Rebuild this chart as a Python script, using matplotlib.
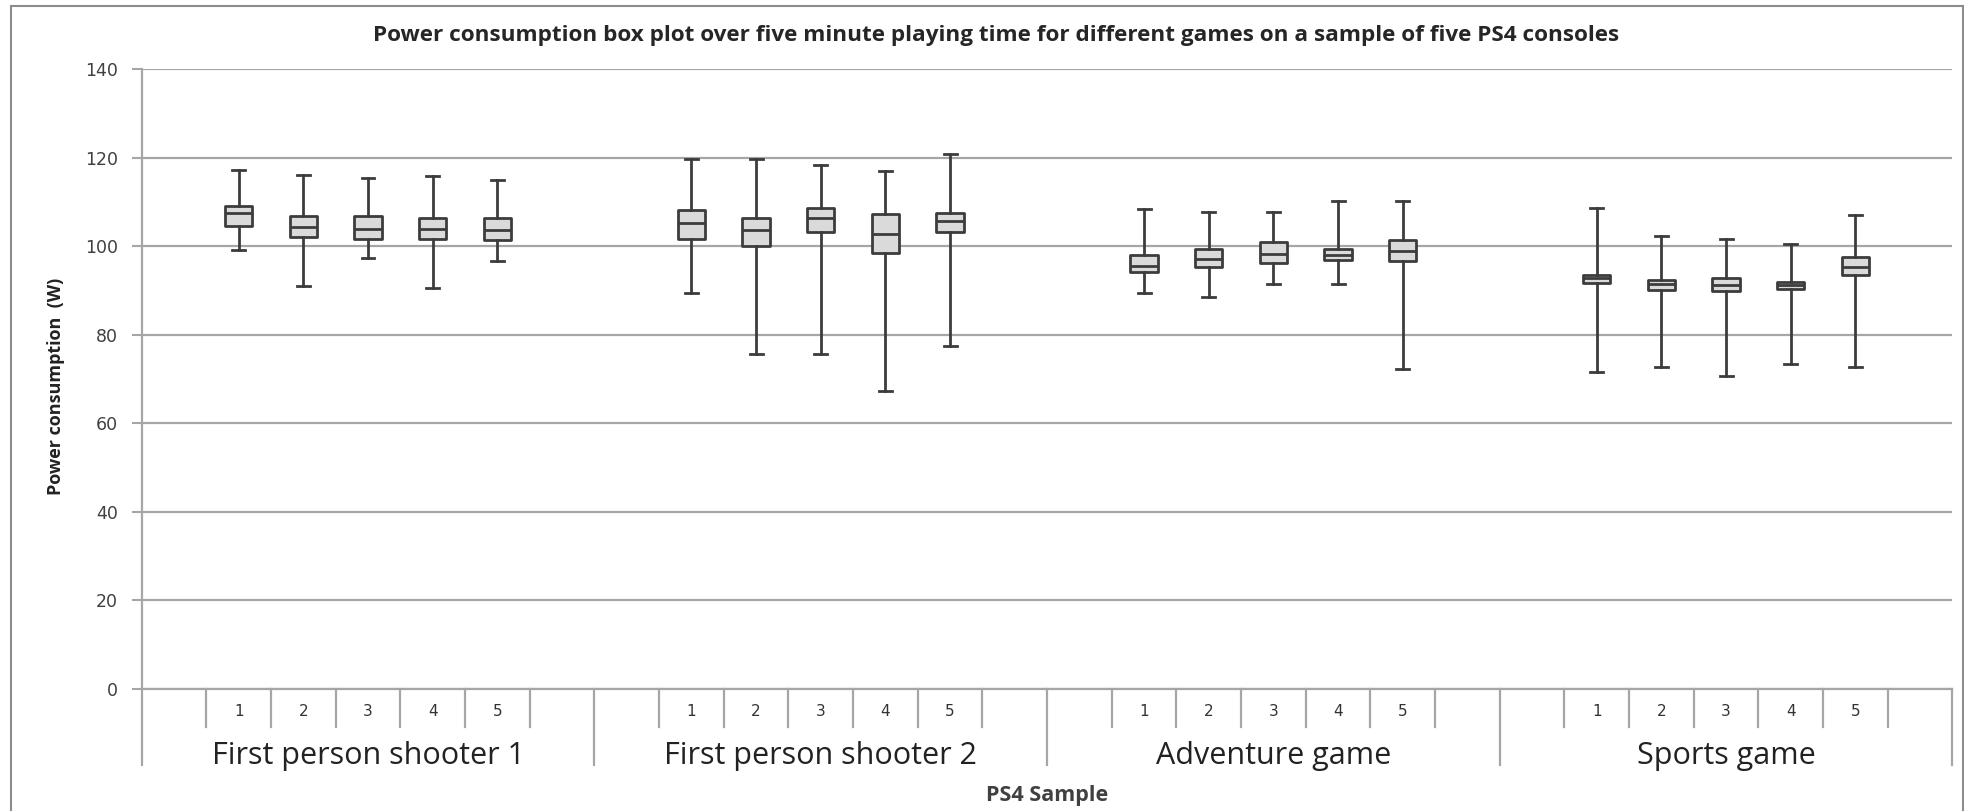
import matplotlib
matplotlib.use('Agg')
import matplotlib.pyplot as plt
import matplotlib.transforms as mtransforms
from matplotlib.patches import Rectangle

games = ['First person shooter 1', 'First person shooter 2', 'Adventure game', 'Sports game']
samples = ['1', '2', '3', '4', '5']

# five-number summaries (W), one row per game, one value per console sample
whisker_low = [
    [99.1, 90.9, 97.3, 90.5, 96.6],
    [89.4, 75.6, 75.6, 67.2, 77.5],
    [89.4, 88.5, 91.4, 91.4, 72.2],
    [71.5, 72.7, 70.7, 73.4, 72.7],
]
q1 = [
    [104.5, 102.0, 101.6, 101.6, 101.3],
    [101.7, 100.1, 103.3, 98.4, 103.3],
    [94.2, 95.4, 96.3, 96.9, 96.6],
    [91.6, 90.1, 89.8, 90.4, 93.4],
]
median = [
    [107.4, 104.3, 103.9, 103.9, 103.7],
    [105.2, 103.7, 106.4, 102.8, 105.7],
    [95.6, 97.2, 98.2, 98.1, 98.9],
    [92.8, 91.4, 91.3, 91.3, 95.4],
]
q3 = [
    [109.0, 106.7, 106.7, 106.4, 106.3],
    [108.2, 106.3, 108.7, 107.3, 107.6],
    [98.1, 99.3, 101.0, 99.3, 101.3],
    [93.6, 92.4, 92.7, 92.0, 97.5],
]
whisker_high = [
    [117.3, 116.1, 115.3, 115.8, 115.0],
    [119.6, 119.6, 118.3, 117.0, 120.9],
    [108.4, 107.8, 107.8, 110.3, 110.3],
    [108.7, 102.3, 101.6, 100.4, 107.1],
]

slots = 7  # blank, 1..5, blank in each game group
grid_col = '#a6a6a6'
edge_col = '#3c3c3c'

fig = plt.figure(figsize=(19.65, 8.11), dpi=100)
ax = fig.add_axes([0.0721, 0.1504, 0.9215, 0.7645])

stats = []
positions = []
for g in range(len(games)):
    for s in range(len(samples)):
        stats.append(dict(whislo=whisker_low[g][s], q1=q1[g][s], med=median[g][s],
                          q3=q3[g][s], whishi=whisker_high[g][s], fliers=[]))
        positions.append(g * slots + s + 1)

ax.bxp(stats, positions=positions, widths=0.42, capwidths=0.2, patch_artist=True,
       showfliers=False,
       boxprops=dict(facecolor='#dadada', edgecolor=edge_col, linewidth=2.0, joinstyle='round'),
       medianprops=dict(color=edge_col, linewidth=2.0),
       whiskerprops=dict(color=edge_col, linewidth=2.0),
       capprops=dict(color=edge_col, linewidth=2.0), zorder=3)

ax.set_xlim(-0.5, len(games) * slots - 0.5)
ax.set_ylim(0, 140)
ax.set_yticks(range(0, 141, 20))
ax.yaxis.grid(True, color=grid_col, linewidth=1.6)
ax.set_axisbelow(True)
ax.set_xticks([])
ax.tick_params(axis='y', length=7, width=1.5, color=grid_col, pad=10,
               labelsize=12.5, labelcolor='#404040')
for side in ['top', 'right']:
    ax.spines[side].set_visible(False)
for side in ['left', 'bottom']:
    ax.spines[side].set_color(grid_col)
    ax.spines[side].set_linewidth(1.6)

# category axis drawn below the plot: dividers, sample numbers, game names
trans = mtransforms.blended_transform_factory(ax.transData, ax.transAxes)
for g in range(len(games) + 1):
    x = g * slots - 0.5
    ax.plot([x, x], [0, -0.1226], transform=trans, clip_on=False, color=grid_col, lw=1.6)
for g in range(len(games)):
    for k in range(6):
        x = g * slots + 0.5 + k
        ax.plot([x, x], [0, -0.0613], transform=trans, clip_on=False, color=grid_col, lw=1.6)
    for s, lab in enumerate(samples):
        ax.text(g * slots + s + 1, -0.037, lab, transform=trans, ha='center', va='center',
                fontsize=11, color='#333333')
    ax.text(g * slots + 3, -0.108, games[g], transform=trans, ha='center', va='center',
            fontsize=22, family='Open Sans', color='#222222')

ax.text(0.5, -0.172, 'PS4 Sample', transform=ax.transAxes, ha='center', va='center',
        fontsize=15.5, family='Open Sans', fontweight='bold', color='#404040')
fig.text(0.0285, 0.523, 'Power consumption  (W)', rotation=90, ha='center', va='center',
         fontsize=13, family='Open Sans', fontweight='bold', color='#222222')
fig.text(0.507, 1 - 36 / 811, 'Power consumption box plot over five minute playing time for different games on a sample of five PS4 consoles',
         ha='center', va='center', fontsize=16.2, family='Open Sans', fontweight='bold', color='#262626')

# outer chart border
fig.patches.append(Rectangle((11 / 1965, -0.01), 1952 / 1965, 1.01 - 6 / 811,
                             transform=fig.transFigure, fill=False,
                             edgecolor='#8c8c8c', linewidth=1.5))

fig.savefig('out.png', dpi=100)
